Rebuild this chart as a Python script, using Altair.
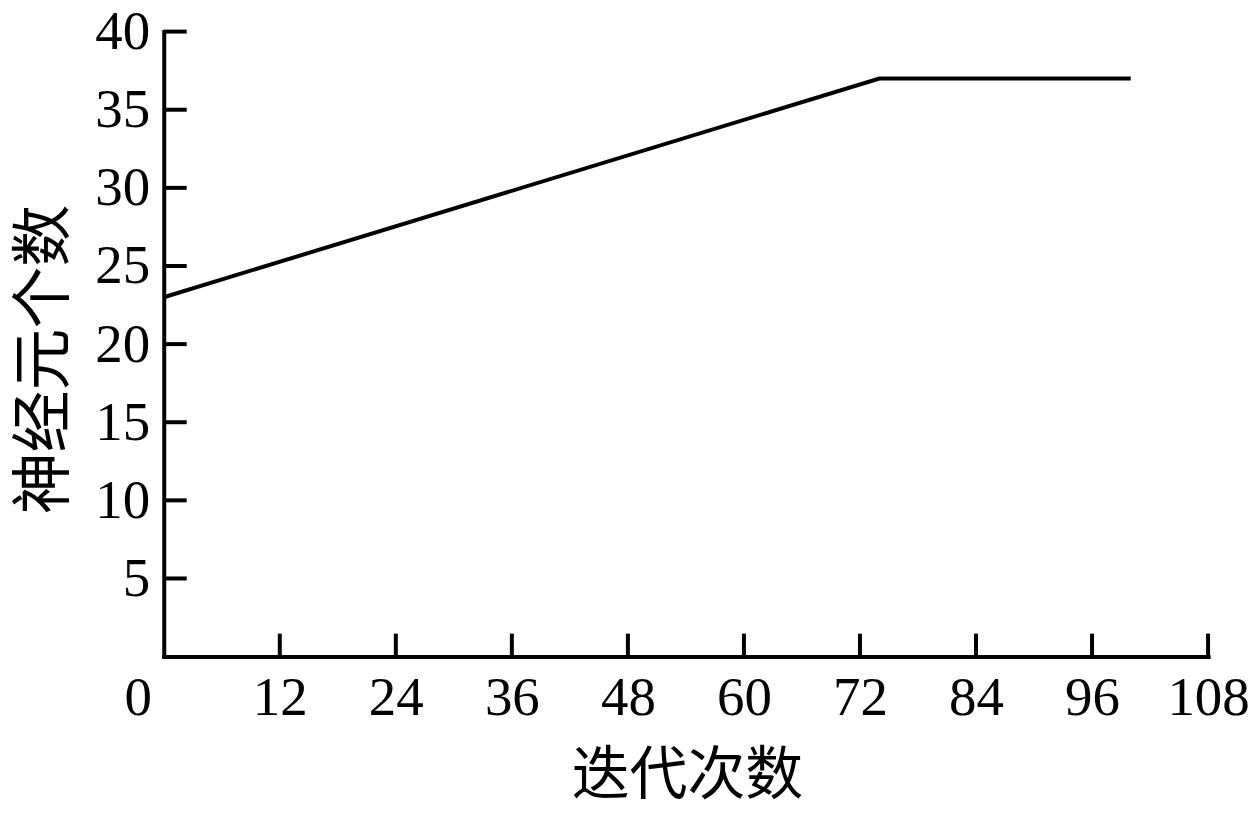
import altair as alt
import pandas as pd

# Data
iterations = [0, 74, 100]
neurons = [23, 37, 37]
x_ticks = [0, 12, 24, 36, 48, 60, 72, 84, 96, 108]
y_ticks = [0, 5, 10, 15, 20, 25, 30, 35, 40]

line_df = pd.DataFrame({"x": iterations, "y": neurons})
xt_df = pd.DataFrame({"x": x_ticks[1:]})
yt_df = pd.DataFrame({"y": y_ticks[1:]})

W, H = 1046, 626
TICK = 23
LABEL_FONT = "Liberation Serif"
TITLE_FONT = "Liberation Serif, Noto Sans CJK SC"

xscale = alt.Scale(domain=[0, 108], nice=False, zero=True)
yscale = alt.Scale(domain=[0, 40], nice=False, zero=True)

x_axis = alt.Axis(
    values=x_ticks,
    title="迭代次数",
    titleFont=TITLE_FONT,
    titleFontSize=58,
    titleFontWeight="normal",
    titleColor="black",
    titleX=W / 2 + 1,
    titleY=120,
    titleBaseline="middle",
    titleAnchor="middle",
    labelFont=LABEL_FONT,
    labelFontSize=55,
    labelColor="black",
    labelPadding=15,
    labelOffset={"condition": {"test": "datum.value == 0", "value": -26}, "value": 0},
    labelFlush=False,
    labelOverlap=False,
    ticks=False,
    grid=False,
    domainColor="black",
    domainWidth=4,
    domainCap="square",
)

y_axis = alt.Axis(
    values=y_ticks,
    title="神经元个数",
    titleFont=TITLE_FONT,
    titleFontSize=62,
    titleFontWeight="normal",
    titleColor="black",
    titleX=-119,
    titleY=H / 2 + 15,
    titleBaseline="middle",
    titleAngle=270,
    labelFont=LABEL_FONT,
    labelFontSize=55,
    labelColor="black",
    labelPadding=14,
    labelExpr="datum.value == 0 ? '' : datum.label",
    labelFlush=False,
    labelOverlap=False,
    labelBaseline="middle",
    ticks=False,
    grid=False,
    domainColor="black",
    domainWidth=4,
    domainCap="square",
)

line = alt.Chart(line_df).mark_line(color="black", strokeWidth=4).encode(
    x=alt.X("x:Q", scale=xscale, axis=x_axis),
    y=alt.Y("y:Q", scale=yscale, axis=y_axis),
)

xticks = alt.Chart(xt_df).mark_rule(color="black", strokeWidth=4).encode(
    x=alt.X("x:Q", scale=xscale, axis=x_axis),
    y=alt.datum(0),
    y2=alt.value(H - TICK),
)

yticks = alt.Chart(yt_df).mark_rule(color="black", strokeWidth=4).encode(
    y=alt.Y("y:Q", scale=yscale, axis=y_axis),
    x=alt.datum(0),
    x2=alt.value(TICK),
)

chart = (
    alt.layer(xticks, yticks, line)
    .properties(
        width=W,
        height=H,
        autosize=alt.AutoSizeParams(type="none"),
        padding={"left": 156, "top": 23, "right": 44, "bottom": 150},
        background="white",
    )
    .configure_view(strokeWidth=0)
)

chart.save("out.html", embed_options={"renderer": "svg", "actions": False})
